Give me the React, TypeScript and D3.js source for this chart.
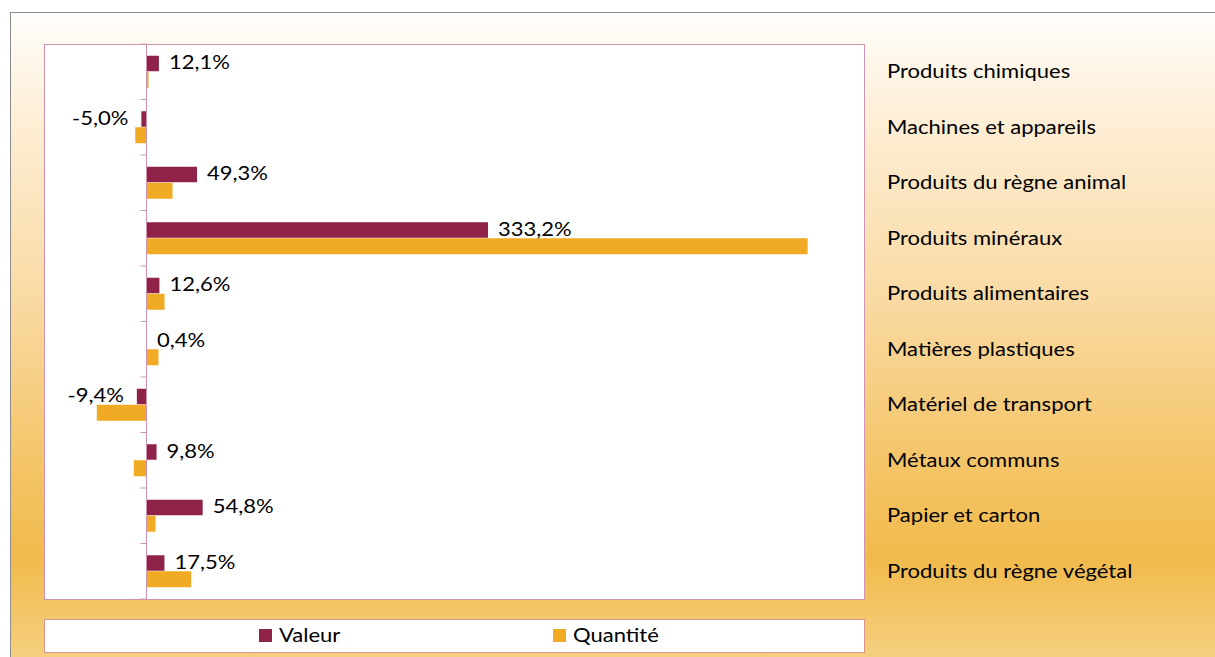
import React from "react";
import * as d3 from "d3";

const categories = [
  "Produits chimiques",
  "Machines et appareils",
  "Produits du règne animal",
  "Produits minéraux",
  "Produits alimentaires",
  "Matières plastiques",
  "Matériel de transport",
  "Métaux communs",
  "Papier et carton",
  "Produits du règne végétal",
];
const valeur = [12.1, -5.0, 49.3, 333.2, 12.6, 0.4, -9.4, 9.8, 54.8, 17.5];
const quantite = [2.0, -11.0, 25.4, 645.0, 17.6, 11.7, -48.5, -12.4, 8.8, 43.6];
const legendLabels = ["Valeur", "Quantité"];
const colors = ["#8E2248", "#F0AA24"];

const W = 1215;
const H = 657;
const FONT = "Lato, 'Open Sans', sans-serif";
const FS = 18.5;
const SX = 1.19;

function T(props: { x: number; y: number; anchor?: string; children: React.ReactNode; sx?: number }) {
  const sx = props.sx ?? SX;
  return (
    <text
      transform={`translate(${props.x},${props.y}) scale(${sx},1)`}
      textAnchor={props.anchor ?? "start"}
      fontSize={FS}
      fill="#000"
    >
      {props.children}
    </text>
  );
}

export default function App() {
  const plot = { x: 44, y: 44, w: 820, h: 555 };
  const x = d3.scaleLinear().domain([-100, 700]).range([plot.x, plot.x + plot.w]);
  const y = d3.scaleBand<string>().domain(categories).range([plot.y, plot.y + plot.h]).padding(0);
  const bw = y.bandwidth();
  const barH = 16;
  const off = (bw - 2 * barH) / 2;
  const x0 = x(0);
  const fmt = (v: number) => v.toFixed(1).replace(".", ",") + "%";
  const ticks = d3.range(categories.length + 1).map((i) => plot.y + i * bw);
  const axisColor = "#D094B0";

  return (
    <svg width={W} height={H} style={{ position: "absolute", left: 0, top: 0 }} fontFamily={FONT}>
      <defs>
        <linearGradient id="bg" x1="0" y1="0" x2="0" y2="1">
          <stop offset="0" stopColor="#FFFEFC" />
          <stop offset="0.14" stopColor="#FEF0DA" />
          <stop offset="0.45" stopColor="#F9D9A0" />
          <stop offset="0.68" stopColor="#F4C569" />
          <stop offset="0.83" stopColor="#F1BA4C" />
          <stop offset="1" stopColor="#F5D285" />
        </linearGradient>
      </defs>
      <rect x={10.5} y={12.5} width={W} height={H} fill="url(#bg)" stroke="#8C8C8C" strokeWidth={1} />
      <rect x={plot.x + 0.5} y={plot.y + 0.5} width={plot.w} height={plot.h} fill="#FFFFFF" stroke={axisColor} strokeWidth={1} />

      {/* bars */}
      {categories.map((c, i) => {
        const by = (y(c) as number) + off;
        const v = valeur[i];
        const q = quantite[i];
        return (
          <g key={c}>
            <rect x={Math.min(x(v), x0)} y={by} width={Math.abs(x(v) - x0)} height={barH - 0.5} fill={colors[0]} />
            <rect x={Math.min(x(q), x0)} y={by + barH} width={Math.abs(x(q) - x0)} height={barH} fill={colors[1]} />
          </g>
        );
      })}

      {/* axis */}
      <line x1={x0} x2={x0} y1={plot.y} y2={plot.y + plot.h} stroke={axisColor} strokeWidth={1} />
      {ticks.map((t, i) => (
        <line key={i} x1={x0 - 6} x2={x0} y1={t} y2={t} stroke={axisColor} strokeWidth={1} />
      ))}

      {/* data labels */}
      {categories.map((c, i) => {
        const v = valeur[i];
        const cy = (y(c) as number) + off + barH / 2;
        const pos = v >= 0;
        return (
          <T key={c} x={pos ? x(v) + 10 : x(v) - 13} y={cy + 5.5} anchor={pos ? "start" : "end"}>
            {fmt(v)}
          </T>
        );
      })}

      {/* category labels */}
      {categories.map((c) => (
        <T key={c} x={887} y={(y(c) as number) + bw / 2 + 6.3}>
          {c}
        </T>
      ))}

      {/* legend */}
      <rect x={44.5} y={619.5} width={820} height={33} fill="#FFFFFF" stroke="#D9948C" strokeWidth={1} />
      {legendLabels.map((l, i) => {
        const lx = [259, 553][i];
        return (
          <g key={l}>
            <rect x={lx} y={629} width={13} height={13} fill={colors[i]} />
            <T x={lx + 20} y={642}>
              {l}
            </T>
          </g>
        );
      })}
    </svg>
  );
}
